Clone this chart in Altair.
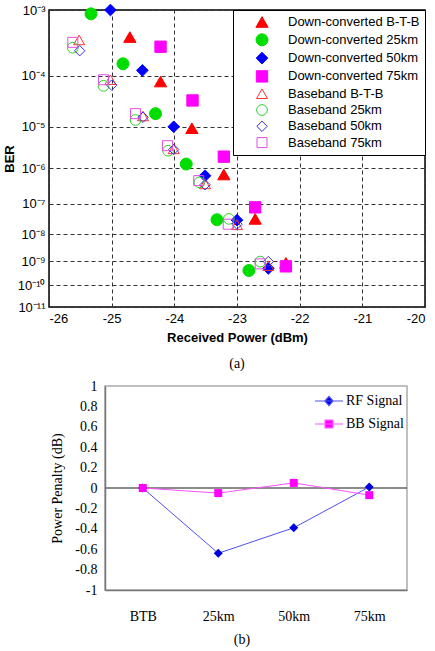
import math
import altair as alt
import pandas as pd

# ---------------- (a) BER vs received power ----------------
series_names = [
    "Down-converted B-T-B", "Down-converted 25km", "Down-converted 50km", "Down-converted 75km",
    "Baseband B-T-B", "Baseband 25km", "Baseband 50km", "Baseband 75km",
]
power_dc_btb = [-24.71, -24.22, -23.72, -23.21, -22.71, -22.22]
ber_dc_btb = [4.2e-4, 7.9e-5, 9.3e-6, 6.9e-7, 3.3e-8, 8.5e-10]
power_dc_25 = [-25.33, -24.82, -24.30, -23.81, -23.32, -22.81]
ber_dc_25 = [8.9e-4, 1.6e-4, 1.9e-5, 1.3e-6, 3.1e-8, 4.2e-10]
power_dc_50 = [-25.02, -24.51, -24.01, -23.51, -23.00, -22.50]
ber_dc_50 = [1.0e-3, 1.24e-4, 1.0e-5, 6.4e-7, 3.0e-8, 5.1e-10]
power_dc_75 = [-24.22, -23.71, -23.21, -22.71, -22.22]
ber_dc_75 = [3.0e-4, 3.5e-5, 2.0e-6, 7.7e-8, 6.2e-10]
power_bb_btb = [-25.52, -25.02, -24.50, -24.01, -23.51, -23.00, -22.50]
ber_bb_btb = [3.8e-4, 8.5e-5, 1.7e-5, 3.1e-6, 3.8e-7, 2.1e-8, 6.6e-10]
power_bb_25 = [-25.62, -25.13, -24.62, -24.10, -23.60, -23.13, -22.63]
ber_bb_25 = [2.9e-4, 6.6e-5, 1.4e-5, 2.8e-6, 4.2e-7, 3.3e-8, 9.6e-10]
power_bb_50 = [-25.51, -25.00, -24.50, -24.01, -23.51, -23.00, -22.50]
ber_bb_50 = [2.6e-4, 6.8e-5, 1.6e-5, 3.0e-6, 3.6e-7, 2.2e-8, 9.6e-10]
power_bb_75 = [-25.62, -25.13, -24.62, -24.11, -23.61, -23.14, -22.63]
ber_bb_75 = [3.5e-4, 8.5e-5, 1.9e-5, 3.7e-6, 4.7e-7, 2.2e-8, 7.8e-10]

powers = [power_dc_btb, power_dc_25, power_dc_50, power_dc_75,
          power_bb_btb, power_bb_25, power_bb_50, power_bb_75]
bers = [ber_dc_btb, ber_dc_25, ber_dc_50, ber_dc_75,
        ber_bb_btb, ber_bb_25, ber_bb_50, ber_bb_75]

stroke_colors = ["#ff0000", "#00dd00", "#0000ff", "#ff00ff",
                 "#ff3030", "#30d030", "#3030e0", "#e050e0"]
fill_colors = ["#ff0000", "#00dd00", "#0000ff", "#ff00ff",
               "transparent", "transparent", "transparent", "transparent"]
shapes = ["triangle-up", "circle", "diamond", "square",
          "triangle-up", "circle", "diamond", "square"]
sizes = [150, 100, 100, 85, 150, 100, 100, 85]

ber_exponents = [3, 4, 5, 6, 7, 8, 9, 10, 11]
power_ticks = [-26, -25, -24, -23, -22, -21, -20]

rows = []
for name, p_list, b_list in zip(series_names, powers, bers):
    for p, b in zip(p_list, b_list):
        rows.append({"series": name, "power": p, "ber": b})
ber_df = pd.DataFrame(rows)

sup = str.maketrans("0123456789", "⁰¹²³⁴⁵⁶⁷⁸⁹")
labels = [""] * 12
for e in ber_exponents:
    labels[e] = "10⁻" + str(e).translate(sup)
label_expr = "[" + ",".join("'%s'" % l for l in labels) + "][round(pow(10, datum.value))]"
y_ticks = [math.log10(e) for e in ber_exponents]

sans = "Liberation Sans"
serif = "Liberation Serif"

legend_a = alt.Legend(
    title=None, orient="top-right", offset=0, padding=5,
    fillColor="white", strokeColor="black",
    symbolOffset=17, labelOffset=19, rowPadding=1.3,
    labelFont=sans, labelFontSize=13, labelColor="#000",
    symbolStrokeWidth=1,
)

top = alt.Chart(ber_df).transform_calculate(
    t="log(-log(datum.ber) / LN10) / LN10"
).mark_point(opacity=1, strokeWidth=1, filled=True).encode(
    x=alt.X("power:Q",
            scale=alt.Scale(domain=[power_ticks[0], power_ticks[-1]], nice=False, zero=False),
            axis=alt.Axis(values=power_ticks, labelExpr="'' + datum.value",
                          title="Received Power (dBm)", titleFont=sans, titleFontSize=13,
                          titleFontWeight="bold", titlePadding=6,
                          labelFont=sans, labelFontSize=13, labelColor="#000", labelPadding=5,
                          ticks=False, domain=False, grid=True, gridColor="#333",
                          gridDash=[4, 3], gridWidth=1, gridOpacity=1)),
    y=alt.Y("t:Q",
            scale=alt.Scale(domain=[y_ticks[0], y_ticks[-1]], reverse=True, nice=False, zero=False),
            axis=alt.Axis(values=y_ticks, labelExpr=label_expr,
                          title="BER", titleFont=sans, titleFontSize=13, titleFontWeight="bold",
                          titleX=-33,
                          labelFont=sans, labelFontSize=13, labelColor="#000", labelPadding=4,
                          ticks=False, domain=False, grid=True, gridColor="#333",
                          gridDash=[4, 3], gridWidth=1, gridOpacity=1)),
    stroke=alt.Stroke("series:N", scale=alt.Scale(domain=series_names, range=stroke_colors), legend=legend_a),
    fill=alt.Fill("series:N", scale=alt.Scale(domain=series_names, range=fill_colors), legend=legend_a),
    shape=alt.Shape("series:N", scale=alt.Scale(domain=series_names, range=shapes), legend=legend_a),
    size=alt.Size("series:N", scale=alt.Scale(domain=series_names, range=sizes), legend=legend_a),
).properties(
    width=376, height=297,
    view=alt.ViewBackground(stroke="black", strokeWidth=1.5),
    title=alt.TitleParams("(a)", orient="bottom", font=serif, fontSize=14,
                          fontWeight="normal", color="#000", offset=13),
)

# ---------------- (b) power penalty ----------------
locations = ["BTB", "25km", "50km", "75km"]
rf_penalty = [0.0, -0.64, -0.39, 0.01]
bb_penalty = [0.0, -0.05, 0.05, -0.07]
pen_series = ["RF Signal", "BB Signal"]
line_colors = ["#5050f0", "#ff50ff"]
marker_colors = ["#0000e0", "#ff00ff"]
marker_shapes = ["diamond", "square"]
marker_sizes = [80, 64]
legend_paths = [
    "M-1,0L1,0M0,-0.33L0.3,0L0,0.33L-0.3,0Z",
    "M-1,0L1,0M-0.28,-0.28L0.28,-0.28L0.28,0.28L-0.28,0.28Z",
]
penalty_ticks = [1, 0.8, 0.6, 0.4, 0.2, 0, -0.2, -0.4, -0.6, -0.8, -1]
zero_level = [0]

pen_rows = []
for name, vals in zip(pen_series, [rf_penalty, bb_penalty]):
    for loc, v in zip(locations, vals):
        pen_rows.append({"signal": name, "location": loc, "penalty": v})
pen_df = pd.DataFrame(pen_rows)

x_b = alt.X("location:N", sort=locations, scale=alt.Scale(type="point", padding=0.5),
            axis=alt.Axis(title=None, labelAngle=0, ticks=False, domain=True,
                          domainColor="#777", domainWidth=1.5,
                          labelFont=serif, labelFontSize=14, labelColor="#000", labelPadding=19))
y_scale_b = alt.Scale(domain=[-1, 1], nice=False, zero=False)
y_b = alt.Y("penalty:Q", scale=y_scale_b,
            axis=alt.Axis(values=penalty_ticks, labelExpr="'' + round(datum.value * 10) / 10",
                          title="Power Penalty (dB)", titleFont=serif, titleFontSize=14,
                          titleFontWeight="normal", titlePadding=10,
                          labelFont=serif, labelFontSize=14, labelColor="#000", labelPadding=8,
                          ticks=False, grid=False, domain=True, domainColor="#777", domainWidth=1.5))

stroke_scale_b = alt.Scale(domain=pen_series, range=line_colors)
fill_scale_b = alt.Scale(domain=pen_series, range=marker_colors)

legend_b = alt.Legend(
    title=None, orient="none", legendX=265, legendY=0, padding=0,
    symbolSize=784, symbolStrokeWidth=1.2,
    labelFont=serif, labelFontSize=14, labelColor="#000", labelOffset=2, rowPadding=0,
)

base_b = alt.Chart(pen_df)
# legend source (drawn first, tiny symbols hidden under the real markers)
legend_layer = base_b.mark_point(size=1, strokeWidth=1.2, filled=True, opacity=1).encode(
    x=x_b, y=y_b,
    stroke=alt.Stroke("signal:N", scale=stroke_scale_b, legend=legend_b),
    fill=alt.Fill("signal:N", scale=fill_scale_b, legend=legend_b),
    shape=alt.Shape("signal:N", scale=alt.Scale(domain=pen_series, range=legend_paths), legend=legend_b),
)
zero_rule = alt.Chart(pd.DataFrame({"penalty": zero_level})).mark_rule(
    color="#666", strokeWidth=1.5
).encode(y=y_b)
lines = base_b.mark_line(strokeWidth=1).encode(
    x=x_b, y=y_b,
    stroke=alt.Stroke("signal:N", scale=stroke_scale_b, legend=legend_b),
)
point_layers = []
for name, shp, sz in zip(pen_series, marker_shapes, marker_sizes):
    point_layers.append(
        base_b.transform_filter(alt.datum.signal == name).mark_point(
            shape=shp, size=sz, filled=True, opacity=1
        ).encode(x=x_b, y=y_b,
                 fill=alt.Fill("signal:N", scale=fill_scale_b, legend=legend_b))
    )

bottom = alt.layer(legend_layer, zero_rule, lines, *point_layers).properties(
    width=302, height=204,
    view=alt.ViewBackground(stroke="#aaa", strokeWidth=1.5),
    title=alt.TitleParams("(b)", orient="bottom", font=serif, fontSize=14,
                          fontWeight="normal", color="#000", offset=10, dx=-14),
)

# empty layout spacer that shifts panel (b) to the right
spacer = alt.Chart(pd.DataFrame({"s": [0]})).mark_point(size=0, strokeWidth=0, opacity=0).properties(
    width=1, height=1, view=alt.ViewBackground(stroke=None)
)

chart = alt.vconcat(top, alt.hconcat(spacer, bottom, spacing=0), spacing=6).resolve_scale(
    stroke="independent", fill="independent", shape="independent", size="independent"
).resolve_legend(
    stroke="independent", fill="independent", shape="independent", size="independent"
).properties(
    padding={"left": 2, "top": 1, "right": 0, "bottom": 0},
    background="white",
)

chart.save("out.html", embed_options={"renderer": "svg", "actions": False})
